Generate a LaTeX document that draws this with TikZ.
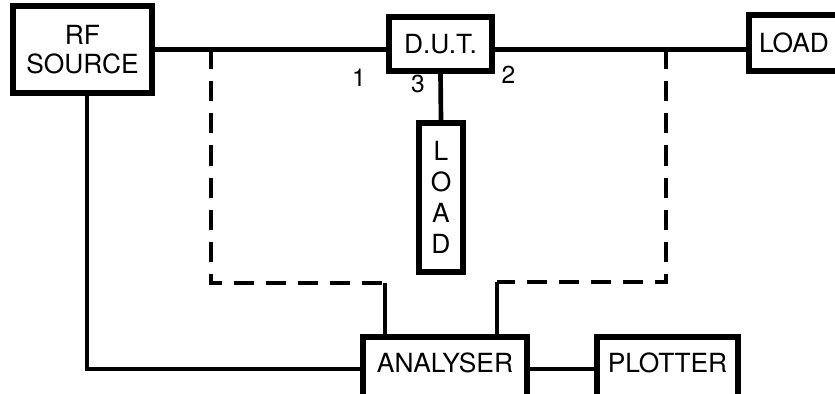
\documentclass[tikz,border=0pt]{standalone}
\usepackage{fontspec}
\setmainfont{TeX Gyre Heros}

\begin{document}
\begin{tikzpicture}[x=0.3mm,y=-0.3mm,
    box/.style={draw,line width=1.7mm,fill=white,inner sep=0pt,align=center,
      font=\fontsize{22.5}{25}\selectfont},
    lowbox/.style={box,minimum height=19.2mm,text depth=3.6mm},
    wire/.style={line width=1.4mm},
    screen/.style={line width=1.4mm,dash pattern=on 6mm off 3.6mm},
    port/.style={font=\fontsize{21}{24}\selectfont}]

      \useasboundingbox (0,0) rectangle (835,394);

      % the boxes
      \node[box,minimum width=41.7mm,minimum height=26.1mm] (rf) at (82.5,49.5) {RF\\SOURCE};
      \node[box,minimum width=30.9mm,minimum height=16.2mm] (dut) at (440.5,44) {D.U.T.};
      \node[box,minimum width=27mm,minimum height=16.8mm] (load) at (794,43) {LOAD};
      \node[box,minimum width=13.2mm,minimum height=44.7mm,
            font=\fontsize{22.5}{26.4}\selectfont] (vload) at (441,197.5) {L\\O\\A\\D};
      \node[lowbox,minimum width=49.2mm] (ana) at (445,369) {ANALYSER};
      \node[lowbox,minimum width=42.3mm] (plot) at (667.5,369) {PLOTTER};

      % port numbers
      \node[port] (p1) at (359,77.5) {1};
      \node[port] (p3) at (418,83.5) {3};
      \node[port] (p2) at (508.5,75) {2};

      % main line through the D.U.T.
      \draw[wire] (rf.east) -- (rf.east -| dut.west);
      \draw[wire] (dut.east |- rf.east) -- (rf.east -| load.west);
      \draw[wire] (dut.south) -- (vload.north);

      % source reference and plotter
      \coordinate (rfdown) at (87,0);
      \draw[wire] (rfdown |- rf.south) -- (rfdown |- ana.west) -- (ana.west);
      \draw[wire] (ana.east) -- (plot.west);

      % screened probe lines to the analyser
      \coordinate (tapl) at (211,49.5);
      \coordinate (cornl) at (385,283);
      \draw[screen] (tapl) -- (tapl |- cornl) -- (cornl);
      \draw[wire] (cornl) -- (cornl |- ana.north);

      \coordinate (tapr) at (666,49.5);
      \coordinate (cornr) at (497,282);
      \draw[screen] (tapr) -- (tapr |- cornr) -- (cornr);
      \draw[wire] (cornr) -- (cornr |- ana.north);

\end{tikzpicture}
\end{document}
